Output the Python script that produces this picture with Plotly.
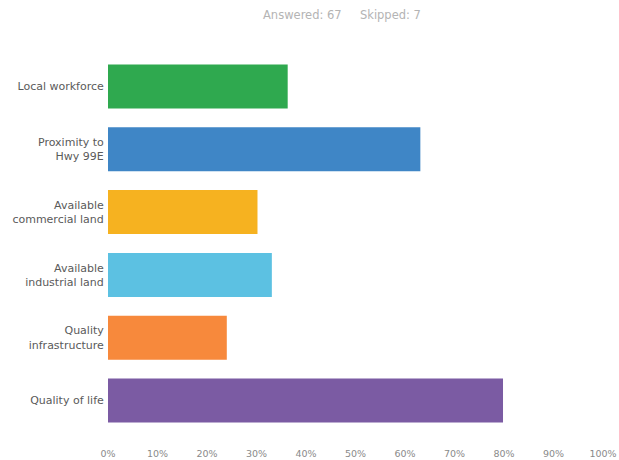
import plotly.graph_objects as go

categories = ["Local workforce", "Proximity to<br>Hwy 99E", "Available<br>commercial land",
              "Available<br>industrial land", "Quality<br>infrastructure", "Quality of life"]
values = [36.3, 63.1, 30.2, 33.1, 24.0, 79.8]
colors = ["#2fa94f", "#3f86c6", "#f6b220", "#5cc1e2", "#f7893c", "#7b5ba3"]
x_tick_vals = [0, 10, 20, 30, 40, 50, 60, 70, 80, 90, 100]
x_tick_text = [f"{v}%" for v in x_tick_vals]
header_text = "Answered: 67&nbsp;&nbsp;&nbsp;&nbsp;&nbsp;Skipped: 7"

W, H = 619, 460
ML, MR, MT, MB = 108, 16, 55, 28

fig = go.Figure(go.Bar(
    x=values, y=categories, orientation="h",
    marker=dict(color=colors, line=dict(width=0)),
    hoverinfo="x+y",
))

fig.update_layout(
    width=W, height=H,
    margin=dict(l=ML, r=MR, t=MT, b=MB, autoexpand=False),
    paper_bgcolor="white", plot_bgcolor="white",
    bargap=0.3,
    showlegend=False,
    font=dict(family="'DejaVu Sans', sans-serif"),
    annotations=[dict(
        text=header_text,
        x=(342 - ML) / (W - ML - MR), xanchor="center",
        y=1.0 + (MT - 15) / (H - MT - MB), yanchor="middle",
        xref="paper", yref="paper",
        showarrow=False, font=dict(size=11.5, color="#b4b4b4"),
    )],
)

fig.update_xaxes(
    range=[0, 100], tickvals=x_tick_vals, ticktext=x_tick_text,
    showgrid=False, zeroline=False, showline=False, automargin=False,
    ticks="outside", ticklen=13, tickcolor="rgba(0,0,0,0)",
    tickfont=dict(size=9.5, color="#8a8a8a"),
)
fig.update_yaxes(
    autorange="reversed", showgrid=False, zeroline=False, showline=False, automargin=False,
    ticks="outside", ticklen=1, tickcolor="rgba(0,0,0,0)",
    tickfont=dict(size=11, color="#5a5a5a"),
)

fig.write_html(
    "out.html",
    config={"displayModeBar": False},
    post_script="document.body.style.margin='0';document.body.style.overflow='hidden';",
)
